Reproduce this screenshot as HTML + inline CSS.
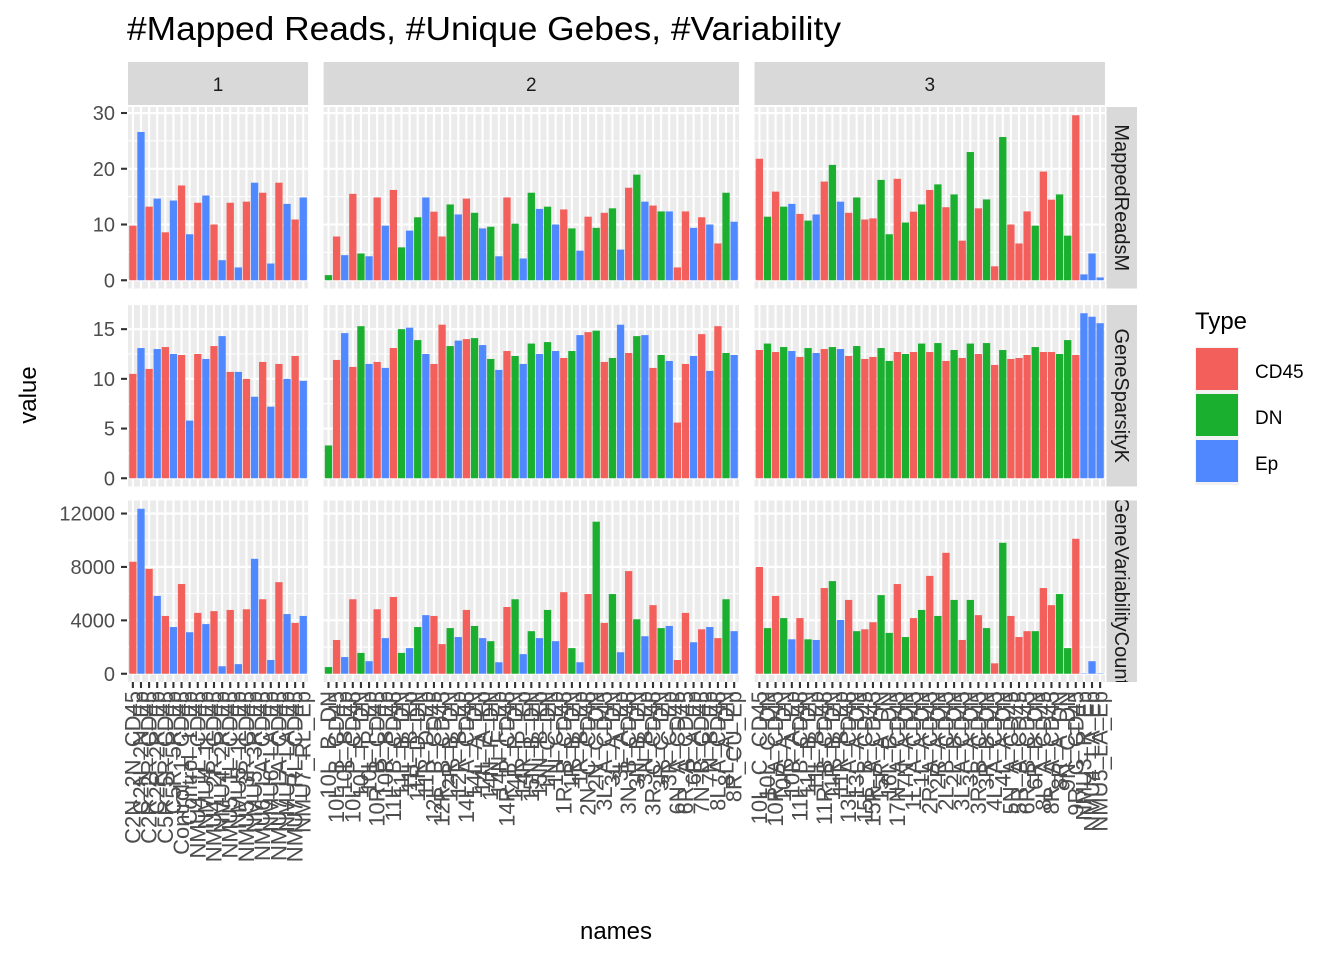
<!DOCTYPE html>
<html><head><meta charset="utf-8"><title>Mapped Reads chart</title>
<style>
body{margin:0;background:#fff;}
svg{display:block;font-family:"Liberation Sans",Arial,sans-serif;}
</style></head>
<body>
<svg id="chart" width="1344" height="960" viewBox="0 0 1344 960" xmlns="http://www.w3.org/2000/svg">
<text x="127" y="40" font-size="33" textLength="714" lengthAdjust="spacingAndGlyphs" fill="#000">#Mapped Reads, #Unique Gebes, #Variability</text>
<text transform="translate(36,395) rotate(-90)" text-anchor="middle" font-size="24" fill="#000">value</text>
<text x="616" y="939" text-anchor="middle" font-size="24" fill="#000">names</text>
<g id="panels"></g>
<g>
<text x="1195" y="329" font-size="24" fill="#000">Type</text>
<rect x="1195" y="347" width="44" height="138" fill="#f2f2f2"/>
<rect x="1196" y="348" width="42" height="42" fill="#F35F5A"/>
<rect x="1196" y="394" width="42" height="42" fill="#1AAF2F"/>
<rect x="1196" y="440" width="42" height="42" fill="#5088FF"/>
<text x="1255" y="378" font-size="19" fill="#000">CD45</text>
<text x="1255" y="424" font-size="19" fill="#000">DN</text>
<text x="1255" y="470" font-size="19" fill="#000">Ep</text>
</g>
</svg>
<script>
// ---- data ----
const names1 = ["C2N_2N_CD45","C2N_2N_Ep","C2R_2R_CD45","C2R_2R_Ep","C5R_5R_CD45","C5R_5R_Ep","Control_1_CD45","Control_1_Ep","NMU4_1L_CD45","NMU4_1L_Ep","NMU4_2R_CD45","NMU4_2R_Ep","NMU5_1L_CD45","NMU5_1L_Ep","NMU5_3R_CD45","NMU5_3R_Ep","NMU6_LA_CD45","NMU6_LA_Ep","NMU7_LA_CD45","NMU7_LA_Ep","NMU7_RL_CD45","NMU7_RL_Ep"];
const names2 = ["10L_B_DN","10L_B_CD45","10L_B_Ep","10L_P_CD45","10L_P_DN","10L_P_Ep","10R_B_CD45","10R_B_Ep","11L_B_CD45","11L_B_DN","11L_B_Ep","11R_D_DN","11R_D_Ep","12L_P_CD45","12R_B_CD45","12R_B_DN","12R_B_Ep","14L_A_CD45","14L_A_DN","14L_A_Ep","14N_F_DN","14N_F_Ep","14R_P_CD45","14R_P_DN","14R_P_Ep","15N_B_DN","15N_B_Ep","1N_C_DN","1N_C_Ep","1R_B_CD45","1R_B_DN","1R_B_Ep","2N_C_CD45","2N_C_DN","3L_A_CD45","3L_A_DN","3L_A_Ep","3N_B_CD45","3N_B_DN","3N_B_Ep","3R_C_CD45","3R_C_DN","3R_C_Ep","6N_A_CD45","6R_A_CD45","6R_A_Ep","7N_B_CD45","7N_B_Ep","8L_A_CD45","8L_A_DN","8R_CU_Ep"];
const names3 = ["10L_C_CD45","10L_C_DN","10R_A_CD45","10R_A_DN","10R_A_Ep","11L_B_CD45","11L_B_DN","11L_B_Ep","11R_B_CD45","11R_B_DN","11R_B_Ep","13L_A_CD45","13L_A_DN","15L_B_CD45","15R_A_CD45","15R_A_DN","16L_B_DN","17N_A_CD45","17N_A_DN","1L_A_CD45","1L_A_DN","2R_A_CD45","2R_A_DN","2L_B_CD45","2L_B_DN","3L_A_CD45","3L_A_DN","3R_B_CD45","3R_B_DN","4L_A_CD45","4L_A_DN","5N_A_CD45","5R_A_CD45","6R_B_CD45","6R_B_DN","8L_A_CD45","8R_A_CD45","8R_A_DN","9N_C_DN","9R_C_CD45","NMU3_R_Ep","NMU4_LA_Ep","NMU5_LA_Ep"];
const types1 = ["R","B","R","B","R","B","R","B","R","B","R","B","R","B","R","B","R","B","R","B","R","B"];
const types2 = ["G","R","B","R","G","B","R","B","R","G","B","G","B","R","R","G","B","R","G","B","G","B","R","G","B","G","B","G","B","R","G","B","R","G","R","G","B","R","G","B","R","G","B","R","R","B","R","B","R","G","B"];
const types3 = ["R","G","R","G","B","R","G","B","R","G","B","R","G","R","R","G","G","R","G","R","G","R","G","R","G","R","G","R","G","R","G","R","R","R","G","R","R","G","G","R","B","B","B"];
const mapped1 = [9.8,26.6,13.2,14.65,8.6,14.3,17,8.25,13.9,15.2,10,3.6,13.9,2.3,14.1,17.5,15.7,3,17.5,13.7,10.9,14.85];
const mapped2 = [0.92,7.85,4.5,15.5,4.8,4.3,14.85,9.8,16.2,5.9,8.9,11.3,14.85,12.3,7.85,13.6,11.8,14.65,12.1,9.3,9.6,4.3,14.85,10.15,3.9,15.7,12.8,13.2,10,12.7,9.3,5.3,11.4,9.4,12.1,12.9,5.5,16.6,18.95,14.1,13.4,12.35,12.35,2.3,12.35,9.4,11.3,10,6.6,15.7,10.5];
const mapped3 = [21.8,11.4,15.9,13.2,13.7,11.9,10.7,11.8,17.7,20.7,14.1,12.1,14.85,10.9,11.1,18.0,8.25,18.2,10.35,12.3,13.6,16.2,17.2,13.1,15.4,7.1,23.0,12.9,14.5,2.5,25.7,10.0,6.6,12.35,9.8,19.5,14.45,15.4,8.0,29.6,1.05,4.8,0.5];
const sparsity1 = [10.5,13.1,11,13,13.2,12.5,12.4,5.8,12.5,12.0,13.3,14.3,10.7,10.7,10,8.2,11.7,7.2,11.5,10,12.3,9.8];
const sparsity2 = [3.3,11.9,14.6,11.2,15.3,11.5,11.7,11.1,13.1,15.0,15.15,13.9,12.5,11.5,15.45,13.3,13.85,14.0,14.1,13.4,12.0,10.9,12.8,12.3,11.5,13.55,12.5,13.7,12.8,12.1,12.8,14.4,14.7,14.85,11.7,12.1,15.45,12.6,14.3,14.4,11.1,12.4,11.8,5.6,11.5,12.3,14.5,10.8,15.3,12.6,12.4];
const sparsity3 = [12.9,13.55,12.7,13.2,12.8,12.2,13.1,12.6,13.0,13.2,13.0,12.3,13.3,12.0,12.2,13.1,11.8,12.7,12.5,12.7,13.55,12.7,13.6,11.8,12.9,12.1,13.55,12.5,13.6,11.4,12.9,12.0,12.1,12.4,13.2,12.7,12.7,12.5,13.9,12.4,16.6,16.25,15.6];
const variability1 = [8390,12360,7860,5830,4330,3500,6720,3110,4560,3720,4690,560,4780,720,4830,8610,5580,1030,6860,4470,3810,4330];
const variability2 = [500,2530,1250,5580,1560,940,4830,2670,5750,1560,1920,3500,4390,4330,2220,3420,2750,4780,3580,2670,2440,860,5000,5580,1470,3190,2670,4780,2440,6110,1920,860,5970,11390,3810,5970,1610,7690,4080,2810,5140,3420,3580,1030,4560,2360,3330,3500,2670,5580,3190];
const variability3 = [8000,3420,5830,4170,2580,4170,2580,2530,6420,6940,4030,5530,3190,3330,3860,5890,3060,6720,2750,4170,4780,7330,4330,9060,5530,2530,5530,4390,3420,780,9810,4330,2750,3190,3190,6420,5140,5970,1920,10110,30,940,30];
const rowTitles = ["MappedReadsM","GeneSparsityK","GeneVariabilityCount"];
const colTitles = ["1","2","3"];
const ticksRow1 = [0,10,20,30];
const ticksRow2 = [0,5,10,15];
const ticksRow3 = [0,4000,8000,12000];
const minorRow1 = [5,15,25];
const minorRow2 = [2.5,7.5,12.5];
const minorRow3 = [2000,6000,10000];

// ---- layout ----
const NS = "http://www.w3.org/2000/svg";
const colors = {R:"#F35F5A", G:"#1AAF2F", B:"#5088FF"};
const typeNames = {R:"cd45", G:"dn", B:"ep"};
const panelsX = [128, 1105];
const gap = 15.5;
const rowTop = [107, 305, 500.5];
const rowH = 181.5;
const names = [names1, names2, names3];
const types = [types1, types2, types3];
const values = [[mapped1,mapped2,mapped3],[sparsity1,sparsity2,sparsity3],[variability1,variability2,variability3]];
const ticks = [ticksRow1, ticksRow2, ticksRow3];
const minors = [minorRow1, minorRow2, minorRow3];

const totalUnits = names.reduce((s,n)=>s+n.length+0.2,0);
const unit = (panelsX[1]-panelsX[0]-2*gap)/totalUnits;
const colLeft = [], colW = [];
let cx0 = panelsX[0];
names.forEach((n,i)=>{colLeft.push(cx0); const w=(n.length+0.2)*unit; colW.push(w); cx0 += w + gap;});

function xScale(col, idx){ return colLeft[col] + (idx + 0.6) * unit; }
const rowMax = values.map(r => Math.max(...r.map(a=>Math.max(...a))));
function yScale(row, v){
  const lo = -0.05*rowMax[row], hi = 1.05*rowMax[row];
  return rowTop[row] + rowH - (v - lo)/(hi - lo)*rowH;
}

const root = document.getElementById('panels');
function mk(tag, attrs, parent){
  const e = document.createElementNS(NS, tag);
  for (const k in attrs) e.setAttribute(k, attrs[k]);
  (parent||root).appendChild(e);
  return e;
}

for (let c=0;c<3;c++){
  const s = mk('rect',{x:colLeft[c],y:62,width:colW[c],height:43,fill:'#d9d9d9'});
  
  
  const t = mk('text',{x:colLeft[c]+colW[c]/2,y:91,'text-anchor':'middle','font-size':19,fill:'#1a1a1a'});
  t.textContent = colTitles[c];
  
  
}
const defs = mk('defs',{});
for (let r=0;r<3;r++){
  const cp = mk('clipPath',{id:'sc'+r},defs);
  mk('rect',{x:1106.5,y:rowTop[r],width:30.5,height:rowH},cp);
  const s = mk('rect',{x:1106.5,y:rowTop[r],width:30.5,height:rowH,fill:'#d9d9d9'});
  
  
  const g = mk('g',{'clip-path':'url(#sc'+r+')'});
  
  
  const t = mk('text',{transform:`translate(1115,${rowTop[r]+rowH/2}) rotate(90)`,'text-anchor':'middle','font-size':20,fill:'#1a1a1a'},g);
  t.textContent = rowTitles[r];
  
  
}

for (let r=0;r<3;r++){
  ticks[r].forEach(tv=>{
    const y = yScale(r,tv);
    const tk = mk('line',{x1:121,x2:127,y1:y,y2:y,stroke:'#333',"stroke-width":2.1});
    
    
    const tl = mk('text',{x:115,y:y+7,'text-anchor':'end','font-size':20,fill:'#4d4d4d'});
    tl.textContent = String(tv);
    
    
  });
  for (let c=0;c<3;c++){
    const bg = mk('rect',{x:colLeft[c],y:rowTop[r],width:colW[c],height:rowH,fill:'#ebebeb'});
    
    
    minors[r].forEach(mv=>{
      const y = yScale(r,mv);
      const l = mk('line',{x1:colLeft[c],x2:colLeft[c]+colW[c],y1:y,y2:y,stroke:'#fff','stroke-width':1.05});
      
      
    });
    ticks[r].forEach(tv=>{
      const y = yScale(r,tv);
      const l = mk('line',{x1:colLeft[c],x2:colLeft[c]+colW[c],y1:y,y2:y,stroke:'#fff','stroke-width':2.1});
      
      
    });
    names[c].forEach((n,i)=>{
      const x = xScale(c,i);
      const l = mk('line',{x1:x,x2:x,y1:rowTop[r],y2:rowTop[r]+rowH,stroke:'#fff','stroke-width':2.1});
      
      
    });
    const vals = values[r][c];
    vals.forEach((v,i)=>{
      const x = xScale(c,i);
      const y0 = yScale(r,0), y1 = yScale(r,v);
      const b = mk('rect',{x:x-0.45*unit,y:Math.min(y0,y1),width:0.9*unit,height:Math.abs(y0-y1),fill:colors[types[c][i]]});
      
      
      const tt = mk('title',{},b); tt.textContent = names[c][i]+': '+v;
    });
  }
}
for (let c=0;c<3;c++){
  names[c].forEach((n,i)=>{
    const x = xScale(c,i);
    const tk = mk('line',{x1:x,x2:x,y1:682,y2:688,stroke:'#333','stroke-width':2.1});
    
    
    const t = mk('text',{transform:`translate(${x+7.5},691) rotate(-90)`,'text-anchor':'end','font-size':22,fill:'#4d4d4d'});
    t.textContent = n;
    
    
  });
}
</script>
</body></html>
